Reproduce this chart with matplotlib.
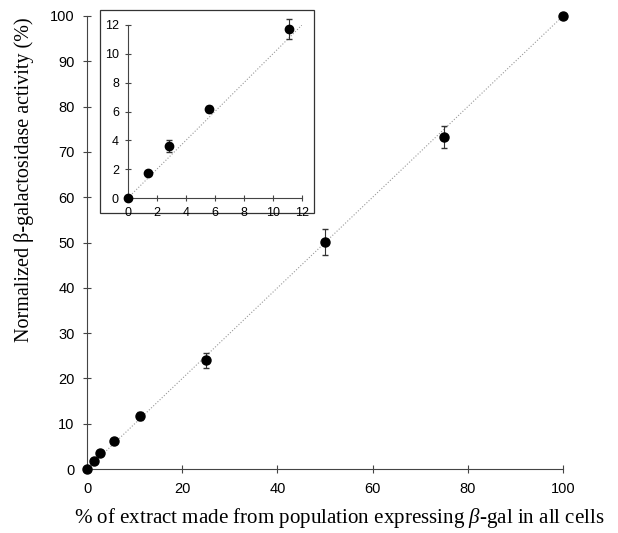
import matplotlib.pyplot as plt
from matplotlib.patches import Rectangle

# data
x = [0, 1.4, 2.8, 5.6, 11.1, 25, 50, 75, 100]
y = [0, 1.7, 3.6, 6.2, 11.7, 24.0, 50.1, 73.3, 100]
err = [0, 0, 0.4, 0.2, 0.8, 1.6, 2.8, 2.5, 0]

ins_x = [0, 1.4, 2.8, 5.6, 11.1]
ins_y = [0, 1.7, 3.6, 6.2, 11.7]
ins_err = [0, 0, 0.4, 0.2, 0.7]

tick_font = 'Liberation Sans'
label_font = 'Liberation Serif'
plt.rcParams['mathtext.fontset'] = 'custom'
plt.rcParams['mathtext.it'] = 'Liberation Serif:italic'
plt.rcParams['mathtext.rm'] = 'Liberation Serif'

fig = plt.figure(figsize=(6.18, 5.33), dpi=100)
ax = fig.add_axes([0.141, 0.120, 0.770, 0.850])

ax.plot([0, 100], [0, 100], ':', color='#999999', lw=0.8)
ax.errorbar(x, y, yerr=err, fmt='o', color='black', ms=6.5, ecolor='#333333',
            elinewidth=0.8, capsize=2.5, clip_on=False, zorder=3)
ax.set_xlim(0, 100)
ax.set_ylim(0, 100)
ax.set_xticks([0, 20, 40, 60, 80, 100])
ax.set_yticks(range(0, 101, 10))
for s in ['top', 'right']:
    ax.spines[s].set_visible(False)
for s in ['left', 'bottom']:
    ax.spines[s].set_linewidth(0.8)
    ax.spines[s].set_color('#444444')
ax.tick_params(direction='inout', length=6, width=0.8, color='#444444',
               labelsize=10.5, pad=6)
for lab in ax.get_xticklabels() + ax.get_yticklabels():
    lab.set_fontfamily(tick_font)
ax.set_xlabel(r'% of extract made from population expressing $\beta$-gal in all cells',
              fontsize=15.1, family=label_font)
ax.set_ylabel('Normalized β-galactosidase activity (%)',
              fontsize=14.5, family=label_font)
ax.xaxis.set_label_coords(0.53, -0.082)
ax.yaxis.set_label_coords(-0.112, 0.638)

# inset frame
fig.patches.append(Rectangle((0.162, 0.600), 0.346, 0.381, transform=fig.transFigure,
                             fill=True, facecolor='white', edgecolor='#333333',
                             lw=0.9, zorder=5))

axi = fig.add_axes([0.207, 0.6285, 0.2816, 0.3246])
axi.set_zorder(6)
axi.patch.set_alpha(0)
axi.plot([0, 12], [0, 12], ':', color='#999999', lw=0.8)
axi.errorbar(ins_x, ins_y, yerr=ins_err, fmt='o', color='black', ms=6,
             ecolor='#333333', elinewidth=0.8, capsize=2.5, clip_on=False, zorder=3)
axi.set_xlim(0, 12)
axi.set_ylim(0, 12)
axi.set_xticks(range(0, 13, 2))
axi.set_yticks(range(0, 13, 2))
for s in ['top', 'right']:
    axi.spines[s].set_visible(False)
for s in ['left', 'bottom']:
    axi.spines[s].set_linewidth(0.8)
    axi.spines[s].set_color('#444444')
axi.tick_params(direction='inout', length=5, width=0.8, color='#444444',
                labelsize=9, pad=4)
for lab in axi.get_xticklabels() + axi.get_yticklabels():
    lab.set_fontfamily(tick_font)

fig.savefig('out.png', dpi=100)
